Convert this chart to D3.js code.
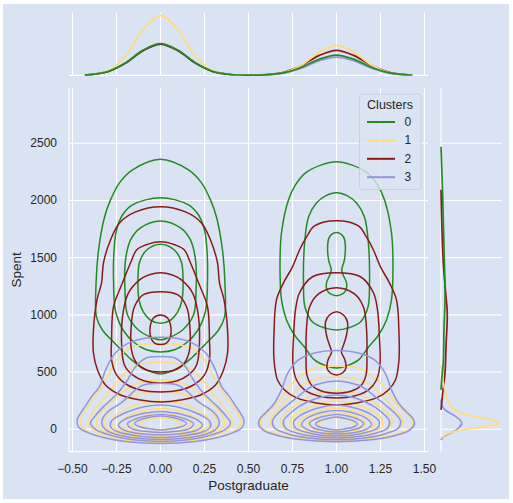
<!DOCTYPE html>
<html>
<head>
<meta charset="utf-8">
<script src="https://cdn.jsdelivr.net/npm/d3@7"></script>
<style>
  body { margin: 0; background: #fff; }
  svg text { font-family: "Liberation Sans", Arial, sans-serif; fill: #262626; }
</style>
</head>
<body>
<svg id="chart" width="513" height="503"></svg>
<script>
// ---- data ----

var clusters = ['0', '1', '2', '3'];
var xTicks = [-0.5, -0.25, 0, 0.25, 0.5, 0.75, 1, 1.25, 1.5];
var yTicks = [0, 500, 1000, 1500, 2000, 2500];

// each contour: centre column x0, lowest / highest Spent, and the half width
// (in Postgraduate units) at a few Spent values going up the right side
var greenContours = [
  {x0: 0, lo: 483, hi: 2360, side: [[536, .102], [632, .182], [754, .261], [868, .330], [983, .364], [1280, .366], [1567, .352], [1856, .318], [2005, .284], [2154, .233], [2267, .159]]},
  {x0: 0, lo: 676, hi: 2024, side: [[695, .080], [756, .148], [861, .210], [1036, .256], [1300, .267], [1567, .264], [1742, .250], [1873, .216], [1961, .159]]},
  {x0: 0, lo: 782, hi: 1821, side: [[807, .057], [868, .125], [999, .1875], [1218, .202], [1480, .199], [1655, .170], [1760, .114]]},
  {x0: 0, lo: 927, hi: 1617, side: [[953, .057], [1023, .097], [1128, .122], [1303, .128], [1460, .119], [1565, .080]]},
  {x0: 1, lo: 536, hi: 2339, side: [[553, .057], [606, .125], [719, .182], [824, .239], [956, .284], [1131, .3125], [1420, .321], [1718, .3125], [2005, .273], [2136, .233], [2241, .176], [2311, .085]]},
  {x0: 1, lo: 868, hi: 2068, side: [[886, .068], [938, .136], [1069, .179], [1279, .1875], [1611, .182], [1856, .159], [1978, .114], [2040, .0625]]},
  {x0: 1, lo: 1168, hi: 1719, side: [[1183, .034], [1218, .054], [1279, .057], [1349, .038], [1393, .030], [1481, .045], [1611, .050], [1681, .040]]}
];

var yellowContours = [
  {x0: 0, lo: -111, hi: 750, side: [[-98, .199], [-67, .330], [-15, .420], [46, .455], [110, .449], [198, .415], [317, .358], [460, .301], [606, .250], [667, .216], [722, .153]]},
  {x0: 0, lo: -102, hi: 588, side: [[-94, .142], [-63, .273], [-15, .369], [46, .409], [116, .398], [212, .352], [317, .295], [431, .239], [518, .182], [571, .102]]},
  {x0: 0, lo: -89, hi: 431, side: [[-80, .114], [-59, .227], [-19, .318], [38, .364], [99, .358], [186, .318], [282, .250], [361, .182], [413, .102]]},
  {x0: 0, lo: -76, hi: 330, side: [[-67, .114], [-41, .216], [3, .301], [64, .324], [134, .301], [212, .244], [274, .182], [317, .102]]},
  {x0: 0, lo: -63, hi: 247, side: [[-50, .125], [-19, .216], [29, .273], [90, .273], [151, .227], [204, .159], [234, .091]]},
  {x0: 0, lo: -50, hi: 182, side: [[-37, .102], [-6, .1875], [38, .227], [90, .210], [138, .153], [169, .085]]},
  {x0: 0, lo: -32, hi: 138, side: [[-19, .080], [11, .148], [55, .170], [94, .136], [125, .074]]},
  {x0: 0, lo: -6, hi: 99, side: [[3, .045], [20, .097], [46, .119], [68, .102], [90, .057]]},
  {x0: 1, lo: -102, hi: 553, side: [[-85, .199], [-41, .341], [11, .420], [73, .432], [134, .398], [212, .347], [300, .301], [387, .261], [483, .1875], [536, .125]]},
  {x0: 1, lo: -89, hi: 457, side: [[-72, .170], [-32, .295], [20, .364], [81, .375], [151, .341], [239, .295], [326, .239], [396, .1875], [440, .114]]},
  {x0: 1, lo: -76, hi: 335, side: [[-63, .125], [-32, .227], [11, .301], [73, .318], [142, .290], [212, .233], [274, .170], [317, .097]]},
  {x0: 1, lo: -63, hi: 247, side: [[-50, .102], [-24, .193], [20, .256], [81, .261], [142, .222], [195, .153], [230, .085]]},
  {x0: 1, lo: -48, hi: 186, side: [[-37, .091], [-6, .170], [38, .216], [90, .199], [138, .142], [169, .080]]},
  {x0: 1, lo: -32, hi: 142, side: [[-19, .074], [11, .142], [55, .165], [99, .125], [129, .068]]},
  {x0: 1, lo: -10, hi: 103, side: [[-2, .040], [20, .091], [46, .108], [68, .091], [90, .051]]}
];

var redContours = [
  {x0: 0, lo: 239, hi: 1946, side: [[256, .114], [300, .227], [387, .3125], [518, .358], [667, .381], [868, .381], [1131, .361], [1280, .335], [1455, .324], [1655, .284], [1804, .233], [1900, .142]]},
  {x0: 0, lo: 326, hi: 1640, side: [[344, .114], [387, .1875], [475, .25], [606, .278], [782, .278], [1071, .267], [1280, .216], [1455, .170], [1567, .136], [1611, .085]]},
  {x0: 0, lo: 405, hi: 1369, side: [[422, .091], [475, .159], [562, .205], [782, .222], [1044, .210], [1193, .182], [1306, .119], [1341, .080]]},
  {x0: 0, lo: 501, hi: 1203, side: [[518, .080], [580, .136], [694, .165], [929, .165], [1071, .148], [1176, .097]]},
  {x0: 0, lo: 740, hi: 999, side: [[754, .034], [798, .054], [912, .057], [973, .040]]},
  {x0: 1, lo: 213, hi: 1823, side: [[230, .114], [274, .227], [344, .295], [431, .335], [606, .355], [842, .355], [1131, .341], [1280, .301], [1420, .250], [1567, .210], [1681, .170], [1777, .125]]},
  {x0: 1, lo: 274, hi: 1369, side: [[291, .102], [344, .182], [431, .227], [562, .247], [807, .244], [1044, .233], [1193, .210], [1333, .136]]},
  {x0: 1, lo: 315, hi: 1238, side: [[334, .085], [387, .142], [475, .168], [649, .173], [894, .170], [1069, .153], [1183, .102]]},
  {x0: 1, lo: 475, hi: 1028, side: [[492, .034], [536, .054], [606, .048], [676, .028], [737, .040], [824, .057], [938, .0625], [999, .040]]}
];

var blueContours = [
  {x0: 0, lo: -124, hi: 804, side: [[-107, .199], [-76, .3125], [-32, .409], [20, .466], [81, .474], [140, .455], [204, .426], [285, .392], [372, .347], [518, .3125], [667, .257], [766, .163]]},
  {x0: 0, lo: -107, hi: 635, side: [[-94, .142], [-59, .267], [-6, .364], [55, .398], [110, .375], [198, .324], [315, .244], [431, .1875], [547, .142], [621, .085]]},
  {x0: 0, lo: -89, hi: 402, side: [[-80, .114], [-59, .216], [-15, .301], [29, .330], [81, .332], [151, .301], [239, .216], [335, .148], [387, .097]]},
  {x0: 0, lo: -72, hi: 212, side: [[-54, .142], [-24, .239], [20, .284], [73, .278], [125, .227], [169, .159], [199, .085]]},
  {x0: 0, lo: -50, hi: 156, side: [[-37, .125], [-6, .210], [38, .239], [81, .210], [116, .153], [142, .085]]},
  {x0: 0, lo: -28, hi: 129, side: [[-15, .102], [11, .170], [51, .1875], [90, .142], [116, .080]]},
  {x0: 0, lo: -6, hi: 116, side: [[3, .057], [20, .114], [51, .148], [77, .125], [103, .068]]},
  {x0: 1, lo: -109, hi: 689, side: [[-94, .182], [-63, .3125], [-15, .409], [46, .443], [99, .432], [151, .398], [230, .352], [344, .3125], [492, .276], [606, .216], [667, .125]]},
  {x0: 1, lo: -92, hi: 422, side: [[-76, .159], [-41, .273], [11, .352], [73, .364], [142, .330], [212, .278], [274, .227], [326, .1875], [378, .136], [405, .080]]},
  {x0: 1, lo: -76, hi: 300, side: [[-63, .125], [-32, .227], [11, .290], [73, .301], [134, .267], [195, .216], [247, .153], [282, .085]]},
  {x0: 1, lo: -59, hi: 212, side: [[-50, .097], [-24, .176], [11, .233], [64, .244], [116, .210], [164, .148], [195, .080]]},
  {x0: 1, lo: -41, hi: 164, side: [[-32, .085], [-6, .159], [38, .199], [81, .182], [121, .136], [151, .074]]},
  {x0: 1, lo: -24, hi: 129, side: [[-10, .074], [16, .136], [55, .153], [90, .119], [116, .0625]]},
  {x0: 1, lo: -6, hi: 108, side: [[3, .045], [20, .097], [46, .119], [73, .097], [94, .051]]}
];

// top marginal: density over Postgraduate, one array per cluster on a shared grid
var margXGrid = [-0.43, -0.4, -0.3, -0.2, -0.1, 0, 0.1, 0.2, 0.3, 0.4, 0.5, 0.6, 0.7, 0.8, 0.9, 1, 1.1, 1.2, 1.3, 1.4, 1.43];
var margX0 = [.007, .012, .062, .204, .416, .528, .416, .204, .062, .013, .004, .008, .040, .130, .266, .337, .266, .130, .040, .008, .005];
var margX1 = [.006, .012, .075, .310, .760, 1.00, .760, .310, .075, .013, .002, .007, .043, .167, .380, .500, .380, .167, .043, .007, .004];
var margX2 = [.007, .011, .061, .201, .410, .520, .410, .201, .061, .013, .005, .010, .049, .161, .328, .416, .328, .161, .049, .009, .006];
var margX3 = [.007, .011, .061, .199, .406, .515, .406, .199, .061, .012, .004, .007, .036, .117, .240, .304, .240, .117, .036, .007, .004];

// right marginal: [Spent, density] per cluster
var margY0 = [[344, 0], [431, .011], [580, .038], [868, .049], [1159, .066], [1596, .049], [2033, .028], [2470, 0]];
var margY1 = [[-76, 0], [-65, .021], [-35, .120], [-6, .339], [23, .721], [45, .920], [58, .960], [73, .890], [96, .721], [125, .448], [169, .230], [241, .120], [361, .054], [475, .021], [560, 0]];
var margY2 = [[169, 0], [317, .028], [492, .066], [722, .082], [1017, .103], [1159, .082], [1451, .038], [1743, .016], [2093, 0]];
var margY3 = [[-94, 0], [-65, .038], [-35, .148], [9, .284], [52, .339], [81, .311], [125, .202], [169, .066], [212, .012], [260, 0]];

// ---- styles and layout ----
var colors = ['#228b22', '#ffdc7c', '#8b1a1a', '#9494dc'];
var bgColor = '#dae3f3';
var main = {left: 69, right: 428, top: 88, bottom: 451.7};
var margTop = {top: 12.3, bottom: 75.3};
var margRight = {left: 441, right: 502};

var svg = d3.select('#chart');

svg.append('rect')
   .attr('x', 3).attr('y', 4)
   .attr('width', 506).attr('height', 495)
   .attr('fill', bgColor);

var x = d3.scaleLinear().domain([-0.52, 1.52]).range([main.left, main.right]);
var y = d3.scaleLinear().domain([-196, 2983]).range([main.bottom, main.top]);
var xDens = d3.scaleLinear().domain([0, 1.05]).range([margTop.bottom, margTop.top]);
var yDens = d3.scaleLinear().domain([0, 1]).range([margRight.left, margRight.right]);

// ---- grids ----
var grid = svg.append('g').attr('stroke', '#fff').attr('stroke-width', 1.1);

// main axes
grid.selectAll('.vx').data(xTicks).enter().append('line')
    .attr('x1', function(d) { return x(d); }).attr('x2', function(d) { return x(d); })
    .attr('y1', main.top).attr('y2', main.bottom);
grid.selectAll('.hy').data(yTicks).enter().append('line')
    .attr('y1', function(d) { return y(d); }).attr('y2', function(d) { return y(d); })
    .attr('x1', main.left).attr('x2', main.right);

// top marginal
grid.selectAll('.tx').data(xTicks).enter().append('line')
    .attr('x1', function(d) { return x(d); }).attr('x2', function(d) { return x(d); })
    .attr('y1', margTop.top).attr('y2', margTop.bottom);

// right marginal
grid.selectAll('.ry').data(yTicks).enter().append('line')
    .attr('y1', function(d) { return y(d); }).attr('y2', function(d) { return y(d); })
    .attr('x1', margRight.left).attr('x2', margRight.right);

// spines (white, left + bottom only)
var spines = svg.append('g').attr('stroke', '#fff').attr('stroke-width', 1.25);
spines.append('line').attr('x1', main.left).attr('x2', main.left).attr('y1', main.top).attr('y2', main.bottom);
spines.append('line').attr('x1', main.left).attr('x2', main.right).attr('y1', main.bottom).attr('y2', main.bottom);
spines.append('line').attr('x1', main.left).attr('x2', main.right).attr('y1', margTop.bottom).attr('y2', margTop.bottom);
spines.append('line').attr('x1', margRight.left).attr('x2', margRight.left).attr('y1', main.top).attr('y2', main.bottom);

// ---- joint kde contours ----
// turn a contour record into a closed ring: bottom, right side up, top, left side down
function contourRing(c) {
  var pts = [[c.x0, c.lo]];
  c.side.forEach(function(p) { pts.push([c.x0 + p[1], p[0]]); });
  pts.push([c.x0, c.hi]);
  c.side.slice().reverse().forEach(function(p) { pts.push([c.x0 - p[1], p[0]]); });
  return pts;
}

var ringLine = d3.line()
                 .x(function(d) { return x(d[0]); })
                 .y(function(d) { return y(d[1]); })
                 .curve(d3.curveCatmullRomClosed.alpha(0.5));

var contourSets = [greenContours, yellowContours, redContours, blueContours];

contourSets.forEach(function(set, i) {
  svg.append('g')
     .attr('fill', 'none')
     .attr('stroke', colors[i])
     .attr('stroke-width', 1.5)
     .selectAll('path')
     .data(set).enter()
     .append('path')
     .attr('d', function(c) { return ringLine(contourRing(c)); });
});

// ---- marginal densities (last cluster first, so cluster 0 ends on top) ----
var topCurves = [margX0, margX1, margX2, margX3];
var rightCurves = [margY0, margY1, margY2, margY3];

var topLine = d3.line()
                .x(function(d, i) { return x(margXGrid[i]); })
                .y(function(d) { return xDens(d); })
                .curve(d3.curveCatmullRom.alpha(0.5));

var rightLine = d3.line()
                  .x(function(d) { return yDens(d[1]); })
                  .y(function(d) { return y(d[0]); })
                  .curve(d3.curveCatmullRom.alpha(0.5));

[3, 2, 1, 0].forEach(function(i) {
  svg.append('path')
     .attr('d', topLine(topCurves[i]))
     .attr('fill', 'none')
     .attr('stroke', colors[i])
     .attr('stroke-width', 1.7);

  svg.append('path')
     .attr('d', rightLine(rightCurves[i]))
     .attr('fill', 'none')
     .attr('stroke', colors[i])
     .attr('stroke-width', 1.7);
});

// ---- tick labels and axis titles ----
var fmtX = d3.format('.2f');

svg.append('g').selectAll('text')
   .data(xTicks).enter().append('text')
   .attr('x', function(d) { return x(d); })
   .attr('y', 468.5)
   .attr('text-anchor', 'middle')
   .attr('dominant-baseline', 'central')
   .style('font-size', '12px')
   .text(function(d) { return fmtX(d); });

svg.append('g').selectAll('text')
   .data(yTicks).enter().append('text')
   .attr('x', 57)
   .attr('y', function(d) { return y(d); })
   .attr('text-anchor', 'end')
   .attr('dominant-baseline', 'central')
   .style('font-size', '12px')
   .text(function(d) { return d; });

svg.append('text')
   .attr('x', (main.left + main.right) / 2)
   .attr('y', 485)
   .attr('text-anchor', 'middle')
   .attr('dominant-baseline', 'central')
   .style('font-size', '13.5px')
   .text('Postgraduate');

svg.append('text')
   .attr('transform', 'translate(16,' + ((main.top + main.bottom) / 2) + ') rotate(-90)')
   .attr('text-anchor', 'middle')
   .attr('dominant-baseline', 'central')
   .style('font-size', '13.5px')
   .text('Spent');

// ---- legend ----
var legend = svg.append('g');

legend.append('rect')
      .attr('x', 359.5).attr('y', 94)
      .attr('width', 61.5).attr('height', 95.5)
      .attr('rx', 3)
      .attr('fill', bgColor).attr('fill-opacity', 0.8)
      .attr('stroke', '#c9d0dc').attr('stroke-width', 1);

legend.append('text')
      .attr('x', 390).attr('y', 105)
      .attr('text-anchor', 'middle')
      .attr('dominant-baseline', 'central')
      .style('font-size', '12.5px')
      .text('Clusters');

var rows = legend.selectAll('.row')
                 .data(clusters).enter()
                 .append('g')
                 .attr('transform', function(d, i) { return 'translate(0,' + (122 + i * 18.4) + ')'; });

rows.append('line')
    .attr('x1', 367).attr('x2', 395)
    .attr('stroke', function(d, i) { return colors[i]; })
    .attr('stroke-width', 2);

rows.append('text')
    .attr('x', 404.5)
    .attr('dominant-baseline', 'central')
    .style('font-size', '12px')
    .text(function(d) { return d; });
</script>
</body>
</html>
